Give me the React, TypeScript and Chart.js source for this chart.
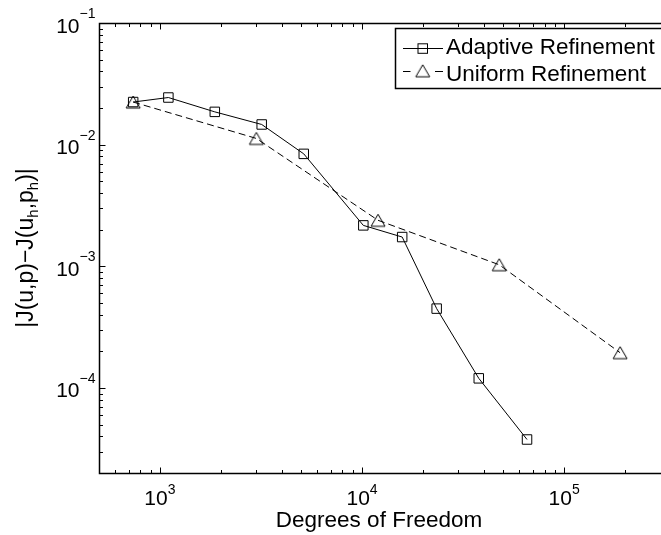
import React, { useEffect, useRef } from 'react';
import { Chart, registerables } from 'chart.js';

Chart.register(...registerables);

// ---- data ----
const adaptiveDofs = [738, 1102, 1870, 3190, 5150, 10150, 15800, 23400, 37800, 65500];
const adaptiveErr = [0.0224, 0.0244, 0.0186, 0.01465, 0.0084, 0.00217, 0.00174, 0.000449, 0.00012, 0.0000377];
const uniformDofs = [738, 3000, 12000, 47700, 189000];
const uniformErr = [0.0224, 0.01125, 0.00239, 0.00103, 0.000195];

const seriesLabels = ['Adaptive Refinement', 'Uniform Refinement'];
const xDecades = [1e3, 1e4, 1e5];
const xDecadeExp = ['3', '4', '5'];
const yDecades = [1e-1, 1e-2, 1e-3, 1e-4];
const yDecadeExp = ['\u22121', '\u22122', '\u22123', '\u22124'];
const xTitle = 'Degrees of Freedom';
const yTitleParts: [string, boolean][] = [
  ['|J(u,p)\u2212J(u', false],
  ['h', true],
  [',p', false],
  ['h', true],
  [')|', false],
];

const X_MIN = 500;
const X_MAX = 2.75e5;
const Y_MIN = 2e-5;
const Y_MAX = 0.1;

const FONT = '"Liberation Sans", Arial, Helvetica, sans-serif';

function makeTriangle(): HTMLCanvasElement {
  const c = document.createElement('canvas');
  c.width = 18;
  c.height = 16;
  const g = c.getContext('2d')!;
  g.strokeStyle = '#000';
  g.lineWidth = 1;
  g.beginPath();
  g.moveTo(9, 2);
  g.lineTo(16, 14);
  g.lineTo(2, 14);
  g.closePath();
  g.stroke();
  return c;
}

export default function App() {
  const ref = useRef<HTMLCanvasElement | null>(null);

  useEffect(() => {
    if (!ref.current) return;
    const tri = makeTriangle();

    const axesPlugin = {
      id: 'matlabAxes',
      afterDraw(chart: any) {
        const { ctx, chartArea: a, scales } = chart;
        const xs = scales.x;
        const ys = scales.y;
        ctx.save();
        ctx.strokeStyle = '#000';
        ctx.lineWidth = 1.5;
        const L = a.left + 0.5;
        const T = a.top + 0.5;
        const B = a.bottom + 0.5;
        ctx.beginPath();
        ctx.moveTo(a.right + 10, T);
        ctx.lineTo(L, T);
        ctx.lineTo(L, B);
        ctx.lineTo(a.right + 10, B);
        ctx.stroke();

        ctx.lineWidth = 1;
        ctx.beginPath();
        for (let e = 2; e <= 5; e++) {
          for (let m = 1; m <= 9; m++) {
            const v = m * Math.pow(10, e);
            if (v <= X_MIN || v > X_MAX) continue;
            const px = Math.round(xs.getPixelForValue(v)) + 0.5;
            const len = m === 1 ? 6 : 3.5;
            ctx.moveTo(px, B);
            ctx.lineTo(px, B - len);
            ctx.moveTo(px, T);
            ctx.lineTo(px, T + len);
          }
        }
        for (let e = -5; e <= -1; e++) {
          for (let m = 1; m <= 9; m++) {
            const v = m * Math.pow(10, e);
            if (v <= Y_MIN * 1.0001 || v >= Y_MAX * 0.9999) continue;
            const py = Math.round(ys.getPixelForValue(v)) + 0.5;
            const len = m === 1 ? 6 : 3.5;
            ctx.moveTo(L, py);
            ctx.lineTo(L + len, py);
          }
        }
        ctx.stroke();

        // tick labels
        ctx.fillStyle = '#000';
        ctx.textBaseline = 'alphabetic';
        ctx.textAlign = 'left';
        const mainF = `21px ${FONT}`;
        const supF = `14px ${FONT}`;
        xDecades.forEach((v, i) => {
          const px = xs.getPixelForValue(v);
          ctx.font = mainF;
          const w1 = ctx.measureText('10').width;
          ctx.font = supF;
          const w2 = ctx.measureText(xDecadeExp[i]).width;
          const x0 = px - (w1 + w2) / 2;
          ctx.font = mainF;
          ctx.fillText('10', x0, 505);
          ctx.font = supF;
          ctx.fillText(xDecadeExp[i], x0 + w1, 494);
        });
        yDecades.forEach((v, i) => {
          const py = ys.getPixelForValue(v);
          ctx.font = mainF;
          const w1 = ctx.measureText('10').width;
          ctx.font = supF;
          const w2 = ctx.measureText(yDecadeExp[i]).width;
          const x0 = 95.5 - (w1 + w2);
          ctx.font = mainF;
          ctx.fillText('10', x0, py + 9.5);
          ctx.font = supF;
          ctx.fillText(yDecadeExp[i], x0 + w1, py - 5);
        });

        // x title
        ctx.font = `22.5px ${FONT}`;
        ctx.textAlign = 'center';
        ctx.fillText(xTitle, (a.left + a.right) / 2 + 3, 527);

        // y title (rotated, with subscripts)
        ctx.save();
        ctx.translate(33, (a.top + a.bottom) / 2);
        ctx.rotate(-Math.PI / 2);
        ctx.textAlign = 'left';
        const mainT = `23px ${FONT}`;
        const subT = `15px ${FONT}`;
        let total = 0;
        yTitleParts.forEach(([s, sub]) => {
          ctx.font = sub ? subT : mainT;
          total += ctx.measureText(s).width;
        });
        let cx = -total / 2;
        yTitleParts.forEach(([s, sub]) => {
          ctx.font = sub ? subT : mainT;
          ctx.fillText(s, cx, sub ? 5 : 0);
          cx += ctx.measureText(s).width;
        });
        ctx.restore();

        // legend
        const lx = 395.5;
        const ly = 28.5;
        ctx.fillStyle = '#fff';
        ctx.fillRect(lx, ly, 320, 60);
        ctx.strokeStyle = '#000';
        ctx.lineWidth = 1.5;
        ctx.strokeRect(lx, ly, 320, 60);
        ctx.lineWidth = 1;
        // row 1
        ctx.beginPath();
        ctx.moveTo(403, 48.5);
        ctx.lineTo(443, 48.5);
        ctx.stroke();
        ctx.strokeRect(418, 43.8, 9.5, 9.5);
        // row 2
        ctx.beginPath();
        ctx.moveTo(403, 71.5);
        ctx.lineTo(410.5, 71.5);
        ctx.moveTo(435, 71.5);
        ctx.lineTo(443, 71.5);
        ctx.stroke();
        ctx.drawImage(tri, 422.7 - 9, 70.8 - 8);
        ctx.fillStyle = '#000';
        ctx.font = `22.5px ${FONT}`;
        ctx.textAlign = 'left';
        ctx.fillText(seriesLabels[0], 446, 53.5);
        ctx.fillText(seriesLabels[1], 446, 80.5);
        ctx.restore();
      },
    };

    const chart = new Chart(ref.current, {
      type: 'line',
      data: {
        datasets: [
          {
            label: seriesLabels[0],
            data: adaptiveDofs.map((x, i) => ({ x, y: adaptiveErr[i] })),
            borderColor: '#000',
            borderWidth: 1,
            pointStyle: 'rect',
            pointRadius: 6.7,
            pointBorderColor: '#000',
            pointBackgroundColor: 'rgba(0,0,0,0)',
            pointBorderWidth: 1,
            tension: 0,
          },
          {
            label: seriesLabels[1],
            data: uniformDofs.map((x, i) => ({ x, y: uniformErr[i] })),
            borderColor: '#000',
            borderWidth: 1,
            borderDash: [7, 4],
            pointStyle: tri as any,
            pointRadius: 7,
            pointBorderColor: '#000',
            pointBackgroundColor: 'rgba(0,0,0,0)',
            tension: 0,
          },
        ],
      },
      options: {
        animation: false,
        responsive: false,
        devicePixelRatio: 1,
        layout: { padding: { top: 23, left: 0, right: 0, bottom: 0 } },
        plugins: {
          legend: { display: false },
          tooltip: { enabled: false },
          title: { display: false },
        },
        scales: {
          x: {
            type: 'logarithmic',
            min: X_MIN,
            max: X_MAX,
            grid: { display: false },
            border: { display: false },
            ticks: { display: false },
            afterFit: (s: any) => {
              s.height = 62;
            },
          },
          y: {
            type: 'logarithmic',
            min: Y_MIN,
            max: Y_MAX,
            grid: { display: false },
            border: { display: false },
            ticks: { display: false },
            afterFit: (s: any) => {
              s.width = 99;
            },
          },
        },
      },
      plugins: [axesPlugin],
    } as any);

    return () => chart.destroy();
  }, []);

  return (
    <div style={{ position: 'absolute', left: 0, top: 0, width: 661, height: 535, overflow: 'hidden', background: '#fff' }}>
      <canvas ref={ref} width={661} height={535} style={{ display: 'block', width: 661, height: 535 }} />
    </div>
  );
}
